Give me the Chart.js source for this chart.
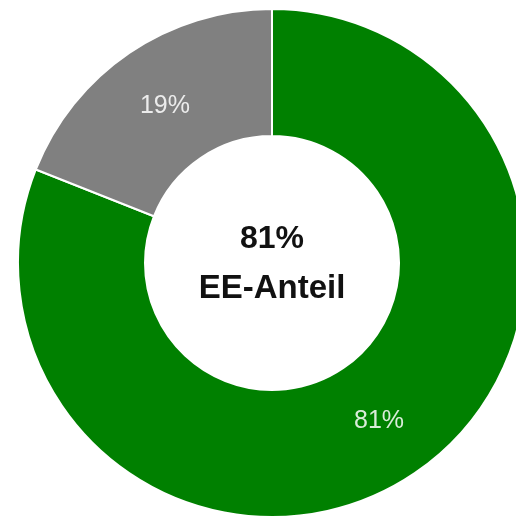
<!DOCTYPE html>
<html>
<head>
<meta charset="utf-8">
<script src="https://cdn.jsdelivr.net/npm/chart.js@4"></script>
<style>
    html, body { margin: 0; padding: 0; background: #fff; overflow: hidden; }
    body { width: 516px; height: 522px; position: relative; }
    #shareChart { position: absolute; left: 17px; top: 8px; }
</style>
</head>
<body>
<canvas id="shareChart" width="510" height="510"></canvas>
<script>
const labels = ['Erneuerbare Energien', 'Konventionell'];
const shares = [81, 19];
const colors = ['#008000', '#808080'];
const centerLines = ['81%', 'EE-Anteil'];

// percentage labels inside each ring segment
const segmentLabels = {
    id: 'segmentLabels',
    afterDatasetsDraw(chart) {
        const ctx = chart.ctx;
        const meta = chart.getDatasetMeta(0);
        ctx.save();
        ctx.font = '25px "Liberation Sans", Arial, sans-serif';
        ctx.fillStyle = 'rgba(255, 255, 255, 0.85)';
        ctx.textAlign = 'center';
        ctx.textBaseline = 'middle';
        meta.data.forEach((arc, i) => {
            const pos = arc.getCenterPoint();
            ctx.fillText(shares[i] + '%', pos.x, pos.y + 1);
        });
        ctx.restore();
    }
};

// big text in the hole
const centerText = {
    id: 'centerText',
    afterDraw(chart) {
        const ctx = chart.ctx;
        const arc = chart.getDatasetMeta(0).data[0];
        ctx.save();
        ctx.fillStyle = '#111';
        ctx.textAlign = 'center';
        ctx.textBaseline = 'middle';
        ctx.font = 'bold 32px "Liberation Sans", Arial, sans-serif';
        ctx.fillText(centerLines[0], arc.x, arc.y - 24);
        ctx.font = 'bold 33px "Liberation Sans", Arial, sans-serif';
        ctx.fillText(centerLines[1], arc.x, arc.y + 26);
        ctx.restore();
    }
};

new Chart(document.getElementById('shareChart'), {
    type: 'doughnut',
    data: {
        labels: labels,
        datasets: [{
            data: shares,
            backgroundColor: colors,
            borderColor: '#ffffff',
            borderWidth: 2
        }]
    },
    options: {
        responsive: false,
        animation: false,
        cutout: '50%',
        layout: { padding: 0 },
        plugins: {
            legend: { display: false },
            tooltip: { enabled: false }
        }
    },
    plugins: [segmentLabels, centerText]
});
</script>
</body>
</html>
